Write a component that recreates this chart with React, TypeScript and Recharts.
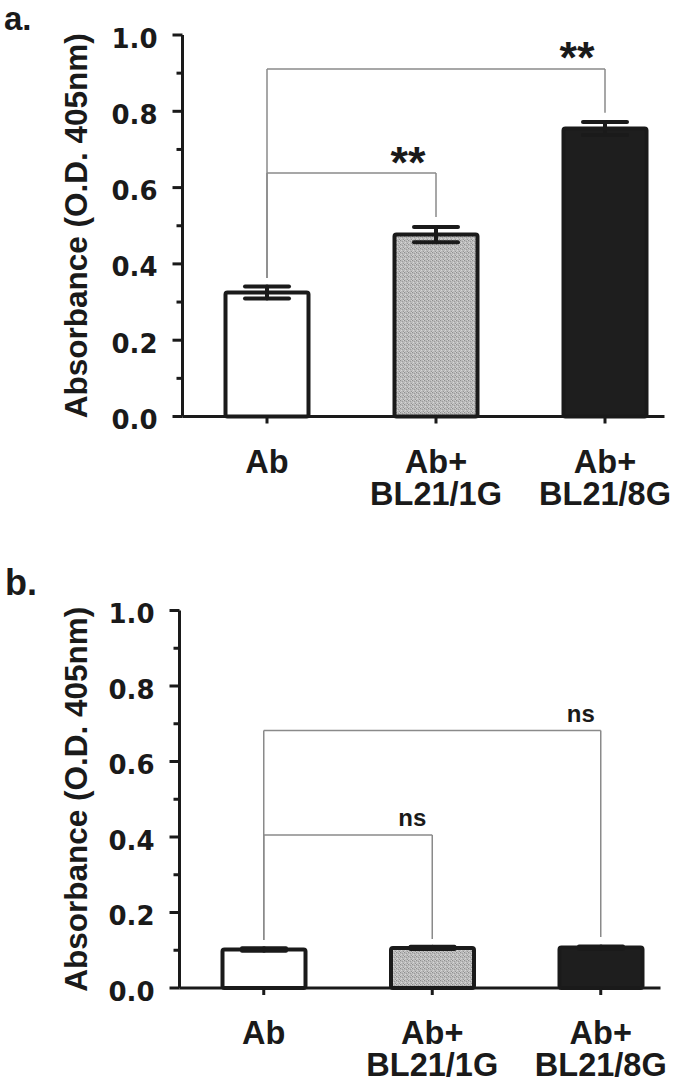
import React from 'react';
import { BarChart, Bar, XAxis, YAxis, ErrorBar, Cell, ReferenceLine, ReferenceDot } from 'recharts';

const categories = ['Ab', 'Ab+\nBL21/1G', 'Ab+\nBL21/8G'];
const yTicks = [0, 0.1, 0.2, 0.3, 0.4, 0.5, 0.6, 0.7, 0.8, 0.9, 1.0];
const yTitle = 'Absorbance (O.D. 405nm)';

// panel a: mean and SEM
const meansA = [0.325, 0.477, 0.755];
const errA = [0.016, 0.02, 0.017];
// panel b
const meansB = [0.102, 0.106, 0.107];
const errB = [0.003, 0.003, 0.003];

const barFills = ['#ffffff', 'url(#stipple)', '#1e1e1e'];

// significance brackets (y in absorbance units)
const bracketsA = [
  { from: 0, to: 1, top: 0.638, leftEnd: 0.363, rightEnd: 0.523, labelY: 0.691, label: '**' },
  { from: 0, to: 2, top: 0.911, leftEnd: 0.363, rightEnd: 0.796, labelY: 0.966, label: '**' },
];
const bracketsB = [
  { from: 0, to: 1, top: 0.405, leftEnd: 0.127, rightEnd: 0.13, labelY: 0.445, label: 'ns' },
  { from: 0, to: 2, top: 0.682, leftEnd: 0.127, rightEnd: 0.135, labelY: 0.721, label: 'ns' },
];

const INK = '#1a1a1a';
const ARIAL = '"Liberation Sans", Arial, sans-serif';

function YTick(props: any) {
  const { x, y, payload } = props;
  const major = Math.round(payload.value * 10) % 2 === 0;
  return (
    <g>
      <line x1={x - (major ? 10 : 6)} x2={x} y1={y} y2={y} stroke={INK} strokeWidth={3} />
      {major && (
        <text x={x - 25} y={y + 12.5} textAnchor="end" fontFamily='"DejaVu Sans", sans-serif' fontWeight="bold" fontSize={26} fill={INK}>
          {payload.value.toFixed(1)}
        </text>
      )}
    </g>
  );
}

function XTick(props: any) {
  const { x, y, payload } = props;
  const lines = String(payload.value).split('\n');
  return (
    <g>
      {lines.map((l, i) => (
        <text key={i} x={x} y={y + 49 + i * 32} textAnchor="middle" fontFamily={ARIAL} fontWeight="bold" fontSize={32.5} fill={INK}>
          {l}
        </text>
      ))}
    </g>
  );
}

interface Bracket {
  from: number; to: number; top: number; leftEnd: number; rightEnd: number; labelY: number; label: string;
}

interface PanelProps {
  means: number[];
  errs: number[];
  brackets: Bracket[];
  top: number;
  plotTop: number;
  plotHeight: number;
  axisLeft: number;
  band: number;
  axisLength: number;
  labelSize: number;
  labelShift: number;
  labelDx: number;
}

function Panel({ means, errs, brackets, top, plotTop, plotHeight, axisLeft, band, axisLength, labelSize, labelShift, labelDx }: PanelProps) {
  const data = categories.map((name, i) => ({ name, value: means[i], err: errs[i] }));
  const width = 710;
  const xAxisHeight = 100;
  const height = plotTop + plotHeight + xAxisHeight + 10;
  const titleY = plotTop + plotHeight / 2;
  const bracketLine = { stroke: '#8a8a8a', strokeWidth: 1.5, ifOverflow: 'visible' as const };

  return (
    <div style={{ position: 'absolute', left: 0, top }}>
      <BarChart
        width={width}
        height={height}
        data={data}
        margin={{ top: plotTop, right: width - axisLeft - 3 * band, bottom: 10, left: 0 }}
      >
        <XAxis
          dataKey="name"
          type="category"
          interval={0}
          height={xAxisHeight}
          tickSize={7}
          tickMargin={0}
          tickLine={{ stroke: INK, strokeWidth: 3 }}
          axisLine={{ stroke: INK, strokeWidth: 3, strokeDasharray: `${axisLength} 3000` }}
          tick={<XTick />}
        />
        <YAxis
          type="number"
          domain={[0, 1]}
          ticks={yTicks}
          interval={0}
          width={axisLeft}
          tickSize={0}
          tickMargin={0}
          tickLine={false}
          axisLine={{ stroke: INK, strokeWidth: 3 }}
          tick={<YTick />}
          label={{
            content: () => (
              <text
                x={87}
                y={titleY}
                transform={`rotate(-90, 87, ${titleY})`}
                textAnchor="middle"
                fontFamily={ARIAL}
                fontWeight="bold"
                fontSize={31.5}
                fill={INK}
              >
                {yTitle}
              </text>
            ),
          }}
        />
        {brackets.map((b, i) => (
          <ReferenceLine
            key={`l${i}`}
            segment={[{ x: categories[b.from], y: b.leftEnd }, { x: categories[b.from], y: b.top }]}
            {...bracketLine}
          />
        ))}
        {brackets.map((b, i) => (
          <ReferenceLine
            key={`h${i}`}
            segment={[{ x: categories[b.from], y: b.top }, { x: categories[b.to], y: b.top }]}
            {...bracketLine}
          />
        ))}
        {brackets.map((b, i) => (
          <ReferenceLine
            key={`r${i}`}
            segment={[{ x: categories[b.to], y: b.top }, { x: categories[b.to], y: b.rightEnd }]}
            {...bracketLine}
          />
        ))}
        {brackets.map((b, i) => (
          <ReferenceDot
            key={`t${i}`}
            x={categories[b.to]}
            y={b.labelY}
            r={0}
            ifOverflow="visible"
            shape={(p: any) => (
              <text
                x={p.cx - labelDx}
                y={p.cy + labelShift}
                textAnchor="middle"
                fontFamily={ARIAL}
                fontWeight="bold"
                fontSize={labelSize}
                fill={INK}
              >
                {b.label}
              </text>
            )}
          />
        ))}
        <Bar dataKey="value" barSize={83} stroke={INK} strokeWidth={4} radius={2} isAnimationActive={false}>
          {data.map((d, i) => (
            <Cell key={d.name} fill={barFills[i]} />
          ))}
          <ErrorBar dataKey="err" direction="y" width={22} stroke={INK} strokeWidth={4} strokeLinecap="round" />
        </Bar>
      </BarChart>
    </div>
  );
}

export default function App() {
  return (
    <div style={{ position: 'absolute', left: 0, top: 0, width: 675, height: 1083, overflow: 'hidden', background: '#fff' }}>
      <svg width={0} height={0} style={{ position: 'absolute' }}>
        <defs>
          <pattern id="stipple" width={4} height={4} patternUnits="userSpaceOnUse">
            <rect width={4} height={4} fill="#bababa" />
            <rect x={0} y={0} width={1} height={1} fill="#8e8e8e" />
            <rect x={2} y={1} width={1} height={1} fill="#9c9c9c" />
            <rect x={1} y={2} width={1} height={1} fill="#d6d6d6" />
            <rect x={3} y={3} width={1} height={1} fill="#969696" />
            <rect x={3} y={0} width={1} height={1} fill="#d0d0d0" />
            <rect x={0} y={3} width={1} height={1} fill="#cecece" />
          </pattern>
        </defs>
      </svg>
      <Panel
        means={meansA}
        errs={errA}
        brackets={bracketsA}
        top={0}
        plotTop={35}
        plotHeight={381.5}
        axisLeft={182.5}
        band={169}
        axisLength={482}
        labelSize={45}
        labelShift={25}
        labelDx={28}
      />
      <Panel
        means={meansB}
        errs={errB}
        brackets={bracketsB}
        top={540}
        plotTop={70.5}
        plotHeight={377.5}
        axisLeft={179.5}
        band={168.5}
        axisLength={481}
        labelSize={24}
        labelShift={6}
        labelDx={20}
      />
      <svg width={675} height={1083} style={{ position: 'absolute', left: 0, top: 0, pointerEvents: 'none' }}>
        <text x={4} y={30} fontFamily={ARIAL} fontWeight="bold" fontSize={33} fill={INK}>a.</text>
        <text x={5} y={595} fontFamily={ARIAL} fontWeight="bold" fontSize={36} fill={INK}>b.</text>
      </svg>
    </div>
  );
}
